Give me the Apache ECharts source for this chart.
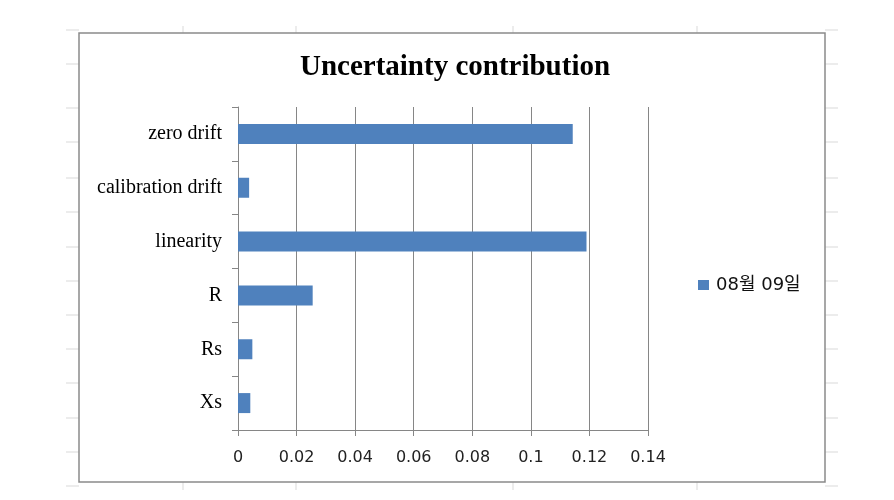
<!DOCTYPE html>
<html>
<head>
<meta charset="utf-8">
<script src="https://cdn.jsdelivr.net/npm/echarts@6/dist/echarts.min.js"></script>
<style>html,body{margin:0;padding:0;background:#fff}#c{width:894px;height:500px}</style>
</head>
<body>
<div id="c"></div>
<script>
var categories = ['Xs', 'Rs', 'R', 'linearity', 'calibration drift', 'zero drift'];
var values = [0.0042, 0.0049, 0.0255, 0.119, 0.0038, 0.1143];
var seriesName = '08월 09일';
var titleText = 'Uncertainty contribution';
var xMin = 0, xMax = 0.14, xStep = 0.02;

var chart = echarts.init(document.getElementById('c'), null, {renderer: 'canvas'});
var gridColor = '#868686';
var sheetLines = [];
var rowYs = [30, 64, 108, 142, 178, 212, 247, 281, 315, 349, 383, 418, 452, 486];
rowYs.forEach(function (y) {
  sheetLines.push({type: 'line', shape: {x1: 66, y1: y, x2: 79, y2: y}, style: {stroke: '#d9d9d9', lineWidth: 1}, silent: true});
  sheetLines.push({type: 'line', shape: {x1: 825, y1: y, x2: 838, y2: y}, style: {stroke: '#d9d9d9', lineWidth: 1}, silent: true});
});
[183, 296, 513, 697].forEach(function (x) {
  sheetLines.push({type: 'line', shape: {x1: x, y1: 26, x2: x, y2: 33}, style: {stroke: '#d9d9d9', lineWidth: 1}, silent: true});
  sheetLines.push({type: 'line', shape: {x1: x, y1: 482, x2: x, y2: 490}, style: {stroke: '#d9d9d9', lineWidth: 1}, silent: true});
});
sheetLines.push({type: 'rect', shape: {x: 79, y: 33, width: 746, height: 449}, style: {fill: 'none', stroke: '#8a8a8a', lineWidth: 1.5}, silent: true, z: 10});

chart.setOption({
  animation: false,
  backgroundColor: '#fff',
  title: {
    text: titleText,
    left: 450, top: 48, textAlign: 'center',
    textStyle: {fontFamily: 'Liberation Serif', fontWeight: 'bold', fontSize: 29, color: '#000'}
  },
  legend: {
    data: [seriesName],
    orient: 'vertical',
    left: 693, top: 271,
    icon: 'rect', itemWidth: 11, itemHeight: 10, itemGap: 5,
    textStyle: {fontFamily: 'DejaVu Sans, Noto Sans CJK KR', fontSize: 18, color: '#111', padding: [0, 0, 0, 2]}
  },
  grid: {left: 238, right: 246, top: 107, bottom: 70, containLabel: false},
  xAxis: {
    type: 'value', min: xMin, max: xMax, interval: xStep,
    axisLine: {show: true, lineStyle: {color: gridColor, width: 1}},
    axisTick: {show: true, length: 6, lineStyle: {color: gridColor}},
    splitLine: {show: true, lineStyle: {color: gridColor, width: 1}},
    axisLabel: {fontFamily: 'DejaVu Sans', fontSize: 16, color: '#222', margin: 20,
      formatter: function (v) { return String(Math.round(v * 100) / 100); }}
  },
  yAxis: {
    type: 'category', data: categories,
    axisLine: {show: true, lineStyle: {color: gridColor, width: 1}},
    axisTick: {show: true, length: 6, alignWithLabel: false, lineStyle: {color: gridColor}},
    axisLabel: {fontFamily: 'Liberation Serif', fontSize: 20, color: '#000', margin: 16}
  },
  series: [{
    name: seriesName, type: 'bar', data: values,
    barWidth: 20,
    itemStyle: {color: '#4F81BD'}
  }],
  graphic: sheetLines
});
</script>
</body>
</html>
